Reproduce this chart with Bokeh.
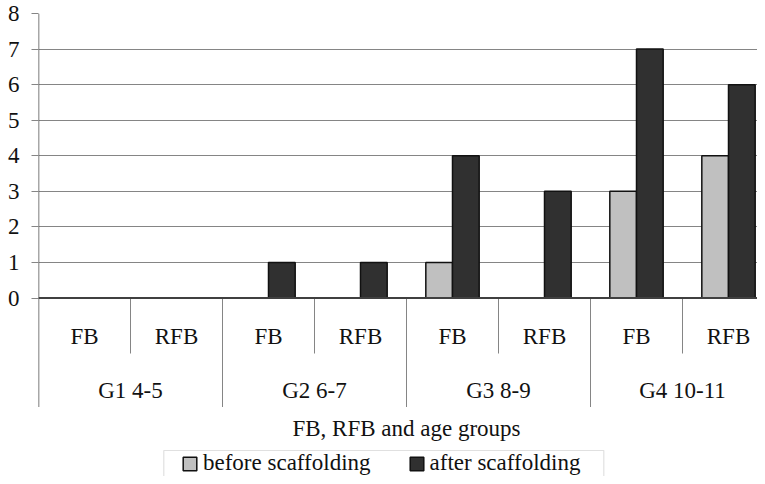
from bokeh.plotting import figure
from bokeh.models import (Range1d, FixedTicker, Legend, LegendItem, BoxAnnotation,
                          ColumnDataSource, Span)
from bokeh.core.properties import value
from bokeh.embed import file_html
from bokeh.resources import INLINE

# ---------------- data ----------------
groups = ["G1 4-5", "G2 6-7", "G3 8-9", "G4 10-11"]
feedback_types = ["FB", "RFB"]
before = [0, 0, 0, 0, 1, 0, 3, 4]
after = [0, 0, 1, 1, 4, 3, 7, 6]
y_ticks = [0, 1, 2, 3, 4, 5, 6, 7, 8]
series_names = ["before scaffolding", "after scaffolding"]
x_title = "FB, RFB and age groups"

# ---------------- style ----------------
FONT_NAME = "Liberation Serif"
FONT = value(FONT_NAME)
FS = "23px"
TXT = "#111111"
C_BEFORE = "#c0c0c0"
C_AFTER = "#303030"
GRID = "#858585"
BAR_W = 0.29
OFF = 0.145

W, H = 757, 476
LEFT, TOP = 38, 13
frame_w = W - LEFT
frame_h = H - TOP
PX_PER_X = 92.0
ZERO_PX = 297.5              # canvas pixel of the zero line
PX_PER_Y = (ZERO_PX - TOP) / max(y_ticks)

def below(px):
    """pixel distance below the zero line -> y data units"""
    return -px / PX_PER_Y

# table rows / decorations under the axis
ROW1_Y, ROW1_END = below(38.5), below(55.5)
ROW2_Y, ROW2_END = below(92.5), below(109)
TITLE_Y = below(130.5)
LEG_TOP = below(152.5)

n_cat = len(groups) * len(feedback_types)
centers = [i + 0.5 for i in range(n_cat)]
sub_labels = [t for g in groups for t in feedback_types]
group_centers = [len(feedback_types) * (j + 0.5) for j in range(len(groups))]

p = figure(width=W, height=H,
           x_range=Range1d(0, frame_w / PX_PER_X),
           y_range=Range1d(max(y_ticks) - frame_h / PX_PER_Y, max(y_ticks)),
           output_backend="svg", toolbar_location=None,
           x_axis_location=None,
           min_border_left=LEFT, min_border_right=0,
           min_border_top=TOP, min_border_bottom=0)
p.outline_line_color = None
p.background_fill_color = "white"
p.border_fill_color = "white"

p.xgrid.visible = False
p.ygrid.ticker = FixedTicker(ticks=y_ticks)
p.ygrid.grid_line_color = GRID
p.ygrid.grid_line_width = 1

ax = p.yaxis[0]
ax.ticker = FixedTicker(ticks=y_ticks)
ax.axis_line_color = None
ax.major_tick_out = 7
ax.major_tick_in = 0
ax.major_tick_line_color = GRID
ax.minor_tick_line_color = None
ax.major_label_standoff = 12
ax.major_label_text_font = FONT_NAME
ax.major_label_text_font_size = FS
ax.major_label_text_color = TXT

# table separator lines
inner_x = [len(feedback_types) * j + k for j in range(len(groups)) for k in range(1, len(feedback_types))]
group_x = [len(feedback_types) * j for j in range(1, len(groups) + 1)]
p.segment(x0=inner_x, x1=inner_x, y0=[0] * len(inner_x), y1=[ROW1_END] * len(inner_x),
          line_color=GRID, line_width=1)
p.segment(x0=group_x, x1=group_x, y0=[0] * len(group_x), y1=[ROW2_END] * len(group_x),
          line_color=GRID, line_width=1)
# left axis line, continuing down through the table
p.segment(x0=[0], x1=[0], y0=[ROW2_END], y1=[max(y_ticks)], line_color="#505050", line_width=1.5)

# bars
src_b = ColumnDataSource(dict(x=[c - OFF for c in centers], top=before))
src_a = ColumnDataSource(dict(x=[c + OFF for c in centers], top=after))
r_before = p.vbar(x="x", top="top", bottom=0, width=BAR_W, source=src_b,
                  fill_color=C_BEFORE, line_color="#111111", line_width=1.5)
r_after = p.vbar(x="x", top="top", bottom=0, width=BAR_W, source=src_a,
                 fill_color=C_AFTER, line_color="#111111", line_width=1.5)

# zero line
p.add_layout(Span(location=0, dimension="width", line_color="#404040", line_width=2))

# category labels
p.text(x=centers, y=[ROW1_Y] * n_cat, text=sub_labels, text_font=FONT, text_font_size=FS,
       text_align="center", text_baseline="middle", text_color=TXT)
p.text(x=group_centers, y=[ROW2_Y] * len(groups), text=groups, text_font=FONT, text_font_size=FS,
       text_align="center", text_baseline="middle", text_color=TXT)
p.text(x=[n_cat / 2], y=[TITLE_Y], text=[x_title], text_font=FONT, text_font_size=FS,
       text_align="center", text_baseline="middle", text_color=TXT)

# legend box
p.add_layout(BoxAnnotation(left=(163.3 - LEFT) / PX_PER_X, right=(603.3 - LEFT) / PX_PER_X,
                           top=LEG_TOP, bottom=LEG_TOP - 3,
                           fill_alpha=0, line_color="#999999", line_width=1.2))

legend = Legend(items=[LegendItem(label=series_names[0], renderers=[r_before]),
                       LegendItem(label=series_names[1], renderers=[r_after])],
                orientation="horizontal", location=(143, 0),
                border_line_color=None, background_fill_alpha=0,
                padding=0, margin=0, spacing=37,
                glyph_width=17, glyph_height=17, label_standoff=5,
                label_text_font=FONT_NAME, label_text_font_size=FS,
                label_text_color=TXT)
p.add_layout(legend)

open("out.html", "w").write(file_html(p, INLINE))
